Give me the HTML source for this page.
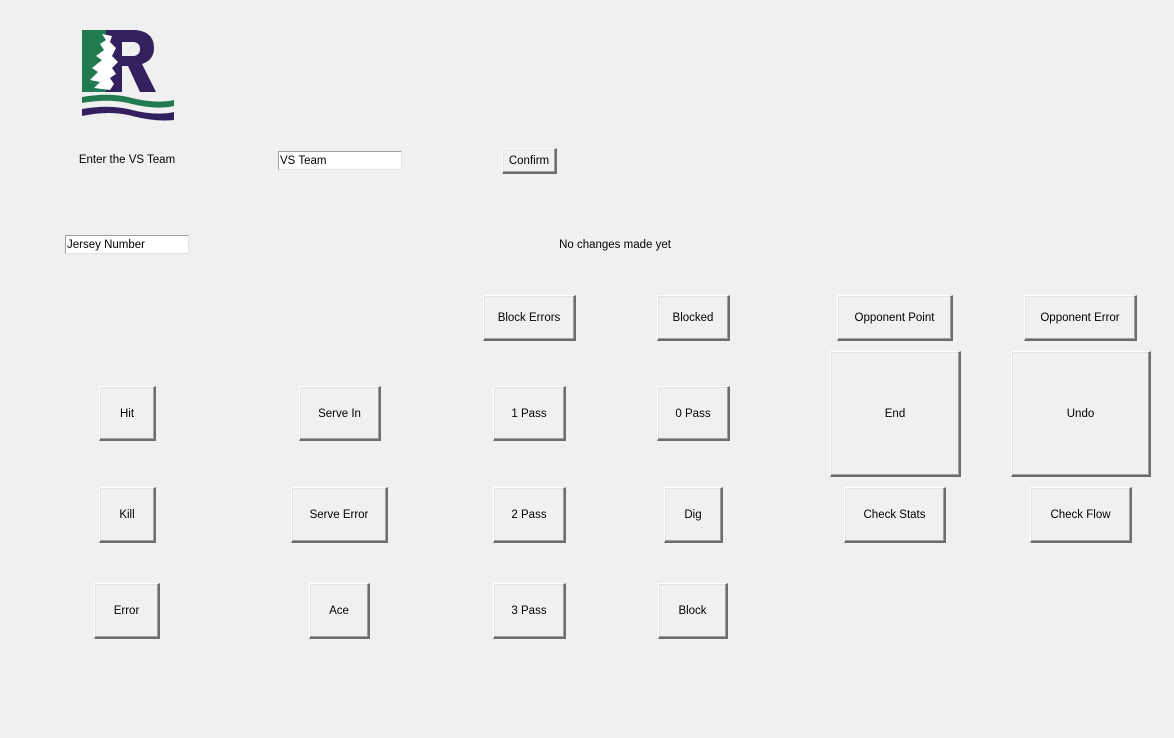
<!DOCTYPE html>
<html><head><meta charset="utf-8"><style>
html,body{margin:0;padding:0;}
body{width:1174px;height:738px;background:#f0f0f0;position:relative;overflow:hidden;font-family:"Liberation Sans",sans-serif;font-size:11.5px;color:#000;}
.b{position:absolute;box-sizing:border-box;background:#f0f0f0;border-top:1px solid #fff;border-left:1px solid #fff;border-right:2px solid #6d6d6d;border-bottom:2px solid #6d6d6d;box-shadow:inset -1px -1px 0 #a0a0a0, inset 1px 1px 0 #e3e3e3;display:flex;align-items:center;justify-content:center;padding-top:1px;}
.e{position:absolute;box-sizing:border-box;background:#fff;border-top:1px solid #a0a0a0;border-left:1px solid #a0a0a0;border-right:1px solid #e3e3e3;border-bottom:1px solid #e3e3e3;padding-left:1px;line-height:18px;}
.l{position:absolute;white-space:nowrap;transform:translateX(-50%);}
</style></head><body>
<svg style="position:absolute;left:80px;top:28px" width="96" height="95" viewBox="0 0 96 95">
<rect x="2" y="2" width="24" height="62" fill="#217a50"/>
<path d="M26 2 L56 2 Q74 4 74 20 Q74 32 62 36 L76 64 L60 64 L48 38 L42 38 L42 64 L26 64 Z M42 14 L42 28 L54 28 Q60 27 60 21 Q60 15 54 14 Z" fill="#33205e"/>
<path d="M22 6 L26 12 L20 16 L24 22 L16 28 L22 32 L12 40 L18 44 L10 52 L20 54 L14 60 L30 62 L34 56 L30 50 L36 46 L32 40 L38 34 L32 28 L36 20 L30 14 L32 8 Z" fill="#fff"/>
<path d="M2 69 Q30 64 52 70 Q76 76 94 72 L94 78 Q76 82 52 76 Q30 70 2 75 Z" fill="#217a50"/>
<path d="M2 81 Q30 76 52 82 Q76 88 94 84 L94 92 Q76 94 52 88 Q30 82 2 88 Z" fill="#33205e"/>
</svg>
<div class="l" style="left:127px;top:154px">Enter the VS Team</div>
<div class="e" style="left:278px;top:151px;width:124px;height:19px">VS Team</div>
<div class="b" style="left:502px;top:148px;width:55px;height:26px">Confirm</div>
<div class="e" style="left:65px;top:235px;width:124px;height:19px">Jersey Number</div>
<div class="l" style="left:615px;top:239px">No changes made yet</div>

<div class="b" style="left:483px;top:295px;width:93px;height:46px">Block Errors</div>
<div class="b" style="left:657px;top:295px;width:73px;height:46px">Blocked</div>
<div class="b" style="left:837px;top:295px;width:116px;height:46px">Opponent Point</div>
<div class="b" style="left:1024px;top:295px;width:113px;height:46px">Opponent Error</div>

<div class="b" style="left:99px;top:386px;width:57px;height:55px">Hit</div>
<div class="b" style="left:299px;top:386px;width:82px;height:55px">Serve In</div>
<div class="b" style="left:493px;top:386px;width:73px;height:55px">1 Pass</div>
<div class="b" style="left:657px;top:386px;width:73px;height:55px">0 Pass</div>
<div class="b" style="left:830px;top:351px;width:131px;height:126px">End</div>
<div class="b" style="left:1011px;top:351px;width:140px;height:126px">Undo</div>

<div class="b" style="left:99px;top:487px;width:57px;height:56px">Kill</div>
<div class="b" style="left:291px;top:487px;width:97px;height:56px">Serve Error</div>
<div class="b" style="left:493px;top:487px;width:73px;height:56px">2 Pass</div>
<div class="b" style="left:664px;top:487px;width:59px;height:56px">Dig</div>
<div class="b" style="left:844px;top:487px;width:102px;height:56px">Check Stats</div>
<div class="b" style="left:1030px;top:487px;width:102px;height:56px">Check Flow</div>

<div class="b" style="left:94px;top:583px;width:66px;height:56px">Error</div>
<div class="b" style="left:309px;top:583px;width:61px;height:56px">Ace</div>
<div class="b" style="left:493px;top:583px;width:73px;height:56px">3 Pass</div>
<div class="b" style="left:658px;top:583px;width:70px;height:56px">Block</div>
</body></html>
